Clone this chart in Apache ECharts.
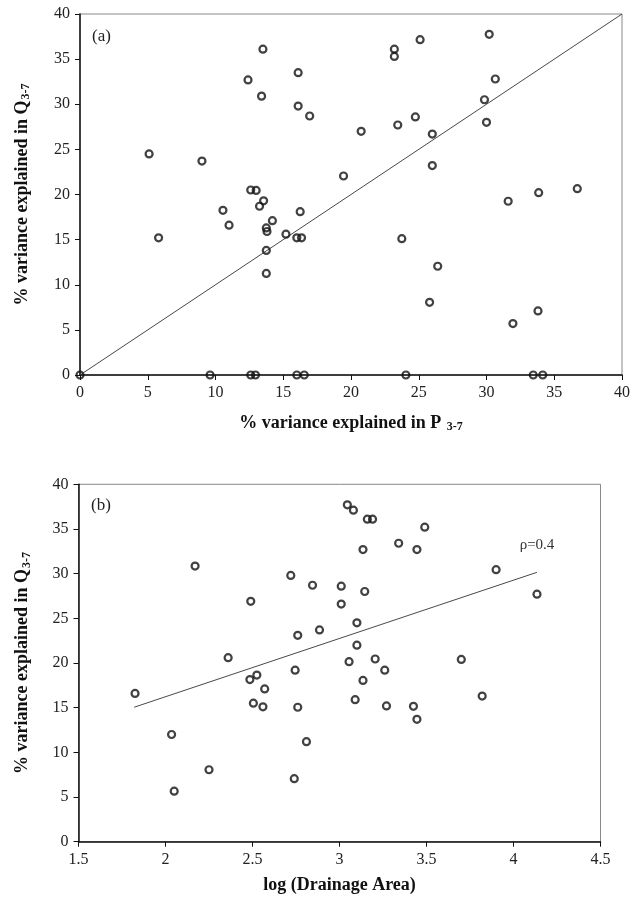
<!DOCTYPE html>
<html><head><meta charset="utf-8">
<script src="https://cdn.jsdelivr.net/npm/echarts@6/dist/echarts.min.js"></script>
<style>html,body{margin:0;padding:0;background:#fff}#c{width:633px;height:901px}</style>
</head><body><div id="c"></div>
<script>
// Panel (a): % variance explained in P3-7 (x) vs Q3-7 (y)
const aX = [0,5.1,5.8,9.0,9.6,10.55,11.0,12.4,12.6,13.0,12.6,12.95,13.25,13.4,13.5,13.55,13.75,13.8,13.75,13.75,14.2,15.2,16.0,16.35,16.1,16.1,16.25,16.0,16.55,16.95,19.45,20.75,23.2,23.2,23.45,23.75,24.05,24.75,25.1,25.8,26.0,26.0,26.4,29.85,30.0,30.2,30.65,31.6,31.95,33.45,33.8,33.85,34.15,36.7];
const aY = [0,24.5,15.2,23.7,0,18.25,16.6,32.7,20.5,20.45,0,0,18.7,30.9,36.1,19.3,16.3,15.9,13.8,11.25,17.1,15.6,15.2,15.2,33.5,29.8,18.1,0,0,28.7,22.05,27.0,36.1,35.3,27.7,15.1,0,28.6,37.15,8.05,26.7,23.2,12.05,30.5,28.0,37.75,32.8,19.25,5.7,0,7.1,20.2,0,20.65];
const aLineX = [0,40];
const aLineY = [0,40];
// Panel (b): log(Drainage Area) vs % variance explained in Q3-7
const bX = [1.825,2.035,2.05,2.17,2.25,2.36,2.485,2.49,2.505,2.525,2.56,2.57,2.72,2.74,2.745,2.76,2.76,2.81,2.845,2.885,3.01,3.01,3.045,3.055,3.08,3.09,3.1,3.1,3.135,3.135,3.145,3.16,3.19,3.205,3.26,3.27,3.34,3.425,3.445,3.445,3.49,3.7,3.82,3.9,4.135];
const bY = [16.6,12.0,5.65,30.85,8.05,20.6,18.15,26.9,15.5,18.65,15.1,17.1,29.8,7.05,19.2,23.1,15.05,11.2,28.7,23.7,28.6,26.6,37.7,20.15,37.1,15.9,24.5,22.0,32.7,18.05,28.0,36.1,36.1,20.45,19.2,15.2,33.4,15.15,32.7,13.7,35.2,20.4,16.3,30.45,27.7];
const bLineX = [1.82,4.135];
const bLineY = [15.05,30.15];
const rhoText = 'ρ=0.4';
const aTicksX = [0,5,10,15,20,25,30,35,40];
const bTicksX = [1.5,2,2.5,3,3.5,4,4.5];

const zip = (xs, ys) => xs.map((x, i) => [x, ys[i]]);
const serif = '"Liberation Serif", "DejaVu Serif", serif';
const chart = echarts.init(document.getElementById('c'), null, {renderer: 'canvas'});

const yNameRich = {
  a: {fontFamily: serif, fontWeight: 'bold', fontSize: 18, color: '#111'},
  s: {fontFamily: serif, fontWeight: 'bold', fontSize: 12, color: '#111', padding: [8, 0, 0, 1]}
};
const axisLine = {show: true, onZero: false, lineStyle: {color: '#111', width: 1.5}};
const tick = {show: true, inside: false, length: 5, lineStyle: {color: '#111', width: 1}};
const label = {fontFamily: serif, fontSize: 16, color: '#222'};
const sym = {color: 'rgba(0,0,0,0)', borderColor: '#111', borderWidth: 2.2};

chart.setOption({
  animation: false,
  backgroundColor: '#fff',
  title: [
    {text: '(a)', left: 87, top: 23, textStyle: {fontFamily: serif, fontWeight: 'normal', fontSize: 17, color: '#222'}},
    {text: '(b)', left: 86, top: 492, textStyle: {fontFamily: serif, fontWeight: 'normal', fontSize: 17, color: '#222'}}
  ],
  grid: [
    {left: 80, right: 9.5, top: 14, height: 361, show: true, borderColor: '#888', borderWidth: 1, backgroundColor: 'transparent'},
    {left: 78.5, right: 32.5, top: 484.3, height: 357.4, show: true, borderColor: '#888', borderWidth: 1, backgroundColor: 'transparent'}
  ],
  xAxis: [
    {gridIndex: 0, type: 'value', min: aTicksX[0], max: aTicksX[aTicksX.length - 1], interval: 5,
     axisLine, axisTick: tick, splitLine: {show: false}, axisLabel: Object.assign({margin: 10}, label),
     name: '{a|% variance explained in P }{s|3-7}', nameLocation: 'middle', nameGap: 38,
     nameTextStyle: {rich: yNameRich}},
    {gridIndex: 1, type: 'value', min: bTicksX[0], max: bTicksX[bTicksX.length - 1], interval: 0.5,
     axisLine, axisTick: tick, splitLine: {show: false}, axisLabel: Object.assign({margin: 10}, label),
     name: 'log (Drainage Area)', nameLocation: 'middle', nameGap: 35,
     nameTextStyle: {fontFamily: serif, fontWeight: 'bold', fontSize: 18, color: '#111'}}
  ],
  yAxis: [
    {gridIndex: 0, type: 'value', min: 0, max: 40, interval: 5,
     axisLine, axisTick: tick, splitLine: {show: false}, axisLabel: Object.assign({margin: 10}, label),
     name: '{a|% variance explained in Q}{s|3-7}', nameLocation: 'middle', nameGap: 48, nameRotate: 90,
     nameTextStyle: {rich: yNameRich}},
    {gridIndex: 1, type: 'value', min: 0, max: 40, interval: 5,
     axisLine, axisTick: tick, splitLine: {show: false}, axisLabel: Object.assign({margin: 10}, label),
     name: '{a|% variance explained in Q}{s|3-7}', nameLocation: 'middle', nameGap: 46, nameRotate: 90,
     nameTextStyle: {rich: yNameRich}}
  ],
  series: [
    {type: 'line', xAxisIndex: 0, yAxisIndex: 0, data: zip(aLineX, aLineY), symbol: 'none',
     lineStyle: {color: '#333', width: 0.9}, silent: true, z: 1},
    {type: 'scatter', xAxisIndex: 0, yAxisIndex: 0, data: zip(aX, aY), symbol: 'circle', symbolSize: 7,
     itemStyle: sym, z: 3},
    {type: 'line', xAxisIndex: 1, yAxisIndex: 1, silent: true, z: 1,
     lineStyle: {color: '#333', width: 0.9},
     symbol: 'circle', symbolSize: 1, showSymbol: true,
     itemStyle: {color: 'rgba(0,0,0,0)'},
     data: zip(bLineX, bLineY).map((p, i) => i === bLineX.length - 1
       ? {value: p, label: {show: true, position: 'top', distance: 19, formatter: rhoText,
          fontFamily: serif, fontSize: 15, color: '#333'}}
       : p)},
    {type: 'scatter', xAxisIndex: 1, yAxisIndex: 1, data: zip(bX, bY), symbol: 'circle', symbolSize: 7,
     itemStyle: sym, z: 3}
  ]
});
</script></body></html>
